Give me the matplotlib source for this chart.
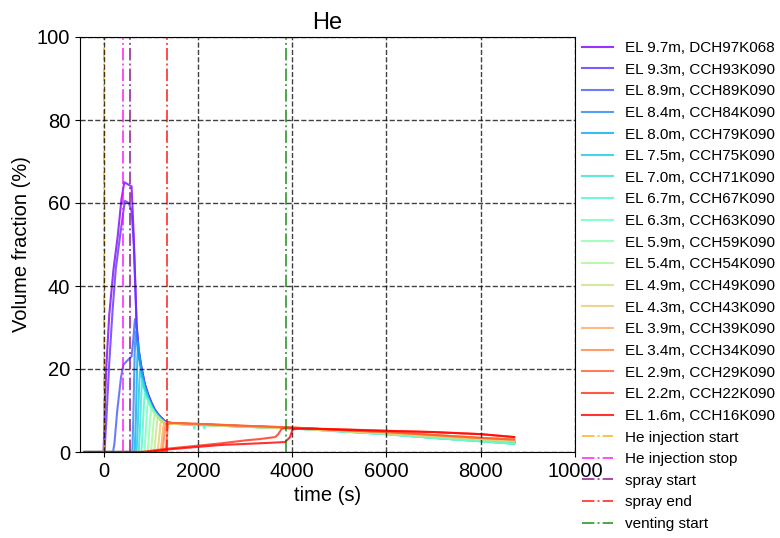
import matplotlib
matplotlib.use("Agg")
import matplotlib.pyplot as plt
import numpy as np

plt.rcParams['font.family'] = ['Liberation Sans', 'DejaVu Sans']

labels = ["EL 9.7m, DCH97K068", "EL 9.3m, CCH93K090", "EL 8.9m, CCH89K090",
          "EL 8.4m, CCH84K090", "EL 8.0m, CCH79K090", "EL 7.5m, CCH75K090",
          "EL 7.0m, CCH71K090", "EL 6.7m, CCH67K090", "EL 6.3m, CCH63K090",
          "EL 5.9m, CCH59K090", "EL 5.4m, CCH54K090", "EL 4.9m, CCH49K090",
          "EL 4.3m, CCH43K090", "EL 3.9m, CCH39K090", "EL 3.4m, CCH34K090",
          "EL 2.9m, CCH29K090", "EL 2.2m, CCH22K090", "EL 1.6m, CCH16K090"]

# early phase (time s, volume fraction %)
t97 = [-400, 0, 30, 60, 120, 210, 300, 380, 440, 594, 640, 675, 700, 740, 804, 874, 944, 1014, 1084, 1154, 1224, 1290, 1350]
v97 = [0, 0, 12, 21, 33, 44, 52, 61, 65, 64, 52, 40, 31, 25, 20.5, 16.5, 14, 12, 10.3, 9.2, 8.3, 7.6, 7.2]
t93 = [-400, 20, 60, 118, 190, 258, 349, 420, 453, 537, 594, 640, 675, 700, 740, 804, 874, 944, 1014, 1084, 1154, 1224, 1290, 1350]
v93 = [0, 0, 8, 21, 34, 44, 52, 58, 60.5, 60, 58, 50, 39, 30.5, 24.5, 20, 16.2, 13.8, 11.8, 10.2, 9.1, 8.2, 7.5, 7.1]
t89 = [-400, 200, 230, 290, 370, 420, 500, 594, 630, 665, 700, 740, 804, 874, 944, 1014, 1084, 1154, 1224, 1290, 1350]
v89 = [0, 0, 2, 10, 18, 21, 22, 23, 27, 32, 30, 24.5, 20, 16, 13.6, 11.6, 10, 9, 8.1, 7.4, 7.0]
t84 = [-400, 610, 630, 660, 680, 700, 740, 804, 874, 944, 1014, 1084, 1154, 1224, 1290, 1350]
v84 = [0, 0, 8, 24, 29, 27, 23.5, 19.5, 15.8, 13.5, 11.5, 9.9, 8.9, 8.0, 7.4, 7.0]
t80 = [-400, 660, 685, 715, 735, 770, 804, 874, 944, 1014, 1084, 1154, 1224, 1290, 1350]
v80 = [0, 0, 8, 22, 26.5, 22, 19.2, 15.5, 13.2, 11.3, 9.8, 8.8, 7.9, 7.3, 6.9]
t75 = [-400, 700, 725, 755, 772, 804, 874, 944, 1014, 1084, 1154, 1224, 1290, 1350]
v75 = [0, 0, 6, 16, 19.5, 18.5, 15.2, 13, 11.1, 9.7, 8.7, 7.8, 7.2, 6.9]
t70 = [-400, 745, 770, 800, 818, 874, 944, 1014, 1084, 1154, 1224, 1290, 1350]
v70 = [0, 0, 5, 14, 17.3, 14.8, 12.7, 10.9, 9.6, 8.6, 7.8, 7.2, 6.9]
t67 = [-400, 800, 825, 855, 874, 944, 1014, 1084, 1154, 1224, 1290, 1350]
v67 = [0, 0, 4, 11.5, 14, 12.5, 10.8, 9.5, 8.5, 7.7, 7.1, 6.8]
t63 = [-400, 865, 890, 925, 944, 1014, 1084, 1154, 1224, 1290, 1350]
v63 = [0, 0, 4, 10.5, 12.5, 10.6, 9.4, 8.4, 7.6, 7.0, 6.8]
t59 = [-400, 935, 960, 995, 1014, 1084, 1154, 1224, 1290, 1350]
v59 = [0, 0, 3.5, 9, 10.5, 9.3, 8.3, 7.5, 7.0, 6.8]
t54 = [-400, 1005, 1030, 1065, 1084, 1154, 1224, 1290, 1350]
v54 = [0, 0, 3, 7.8, 9.2, 8.2, 7.4, 6.9, 6.7]
t49 = [-400, 1075, 1100, 1135, 1154, 1224, 1290, 1350]
v49 = [0, 0, 3, 7.3, 8.4, 7.4, 6.9, 6.7]
t43 = [-400, 1145, 1170, 1205, 1224, 1290, 1350]
v43 = [0, 0, 2.5, 6.5, 7.6, 7.0, 6.8]
t39 = [-400, 1210, 1235, 1265, 1285, 1350]
v39 = [0, 0, 2.5, 6, 7.0, 6.8]
t34 = [-400, 1250, 1275, 1305, 1325, 1370]
v34 = [0, 0, 2.5, 5.8, 6.8, 6.9]
t29 = [-400, 1300, 1330, 1350, 1365, 1400]
v29 = [0, 0, 1.5, 4.5, 6.8, 7.0]

# late phase, shared times
tail_t = [1500, 1900, 1925, 1950, 2110, 2135, 2160, 3000, 4000, 5000, 6000, 7000, 8000, 8710]
tail_upper = [6.9, 6.7, 6.7, 6.7, 6.6, 6.6, 6.6, 6.2, 5.8, 5.2, 4.5, 3.7, 2.9, 2.4]
tail_cyan = [6.8, 6.6, 6.6, 6.6, 6.5, 6.5, 6.5, 6.1, 5.7, 5.0, 4.3, 3.4, 2.6, 2.0]
tail_cyan_dip = [6.8, 6.6, 5.6, 6.5, 6.5, 5.7, 6.5, 6.1, 5.7, 5.0, 4.3, 3.4, 2.6, 2.0]
tail_green = [6.8, 6.6, 6.6, 6.6, 6.5, 6.5, 6.5, 6.1, 5.7, 5.1, 4.5, 3.8, 3.1, 2.6]
tail_orange = [7.0, 6.8, 6.8, 6.8, 6.7, 6.7, 6.7, 6.3, 5.9, 5.3, 4.8, 4.1, 3.4, 3.0]

# lowest two sensors (full records)
t22 = [-400, 800, 1350, 2067, 2500, 3007, 3300, 3638, 3700, 3778, 3850, 4500, 5000, 6000, 7000, 8000, 8710]
v22 = [0, 0, 0.8, 1.6, 2.1, 2.8, 3.1, 3.6, 4.2, 5.6, 5.8, 5.6, 5.5, 5.1, 4.8, 4.3, 3.6]
t16 = [-400, 900, 1350, 2067, 2500, 3116, 3500, 3848, 3950, 4010, 4100, 4500, 5000, 6000, 7000, 8000, 8710]
v16 = [0, 0, 0.6, 1.3, 1.7, 2.0, 2.2, 2.4, 3.5, 5.4, 5.6, 5.6, 5.4, 5.1, 4.8, 4.3, 3.6]

early_t = [t97, t93, t89, t84, t80, t75, t70, t67, t63, t59, t54, t49, t43, t39, t34, t29]
early_v = [v97, v93, v89, v84, v80, v75, v70, v67, v63, v59, v54, v49, v43, v39, v34, v29]
tails = [tail_upper, tail_upper, tail_upper, tail_upper, tail_upper,
         tail_cyan, tail_cyan, tail_cyan_dip, tail_cyan,
         tail_green, tail_green, tail_green, tail_green,
         tail_orange, tail_orange, tail_orange]

event_names = ["He injection start", "He injection stop", "spray start", "spray end", "venting start"]
event_times = [0, 405, 555, 1349, 3868]
event_colors = ["orange", "magenta", "purple", "red", "green"]

fig = plt.figure(figsize=(7.8, 5.38), dpi=100)
ax = fig.add_axes([80/780, 1-452/538, (575-80)/780, (452-37)/538])

colors = plt.cm.rainbow(np.linspace(0, 1, 18))
for i in range(16):
    tt = list(early_t[i]) + tail_t
    vv = list(early_v[i]) + tails[i]
    ax.plot(tt, vv, color=colors[i], lw=1.5, alpha=0.8, label=labels[i])
ax.plot(t22, v22, color=colors[16], lw=1.5, alpha=0.8, label=labels[16])
ax.plot(t16, v16, color=colors[17], lw=1.5, alpha=0.8, label=labels[17])

for name, tv, c in zip(event_names, event_times, event_colors):
    ax.axvline(tv, color=c, ls='-.', lw=1.4, alpha=0.7, label=name)

ax.set_xlim(-500, 10000)
ax.set_ylim(0, 100)
ax.set_xticks([0, 2000, 4000, 6000, 8000, 10000])
ax.set_yticks([0, 20, 40, 60, 80, 100])
ax.tick_params(labelsize=14.5)
ax.grid(True, color='black', ls='--', lw=1.0, alpha=0.75)
ax.set_axisbelow(False)
ax.set_title("He", fontsize=17)
ax.set_xlabel("time (s)", fontsize=14.5)
ax.set_ylabel("Volume fraction (%)", fontsize=14.5)

fig.legend(*ax.get_legend_handles_labels(), loc='upper left',
           bbox_to_anchor=(582/780, 1-41/538), frameon=False, fontsize=11,
           borderpad=0, borderaxespad=0, labelspacing=0.5, handletextpad=0.8)

fig.savefig("out.png", dpi=100)
